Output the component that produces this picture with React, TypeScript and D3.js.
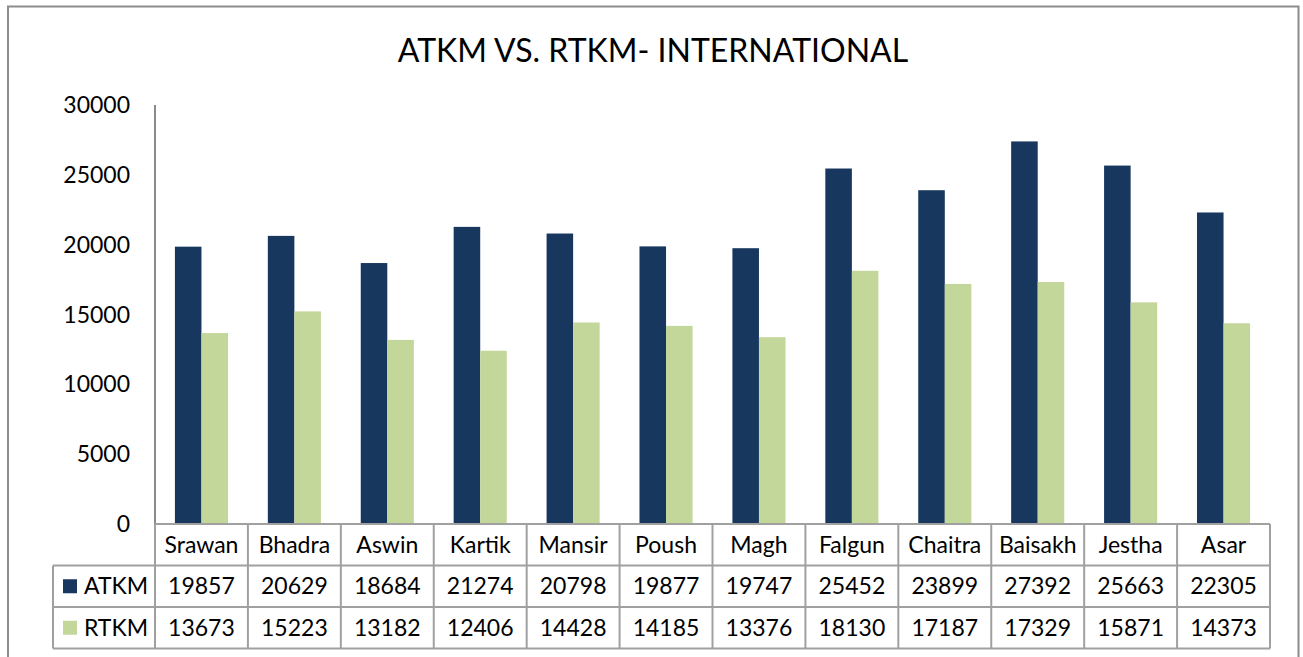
import React, { useEffect, useRef } from 'react'
import * as d3 from 'd3'

// month names (Nepali calendar)
const months = ['Srawan', 'Bhadra', 'Aswin', 'Kartik', 'Mansir', 'Poush', 'Magh', 'Falgun', 'Chaitra', 'Baisakh', 'Jestha', 'Asar']
const atkm = [19857, 20629, 18684, 21274, 20798, 19877, 19747, 25452, 23899, 27392, 25663, 22305]
const rtkm = [13673, 15223, 13182, 12406, 14428, 14185, 13376, 18130, 17187, 17329, 15871, 14373]
const seriesNames = ['ATKM', 'RTKM']
const yTicks = [0, 5000, 10000, 15000, 20000, 25000, 30000]

const W = 1303
const H = 657
const FONT = 'Lato, "Open Sans", sans-serif'

function App() {
  const svgRef = useRef<SVGSVGElement>(null)

  useEffect(() => {
    document.body.style.margin = '0'
    const svg = d3.select(svgRef.current)
    svg.selectAll('*').remove()

    const left = 155, right = 1270, top = 105, bottom = 524
    const rowH = 41.5
    const legendLeft = 53
    const colors = ['#17375e', '#c4d79b']
    const series = [atkm, rtkm]

    // outer chart frame
    svg.append('rect')
      .attr('x', 8).attr('y', 6.5)
      .attr('width', 1290.5).attr('height', 700)
      .attr('fill', 'white')
      .attr('stroke', '#8c8c8c').attr('stroke-width', 2)

    svg.append('text')
      .attr('x', 653).attr('y', 62)
      .attr('text-anchor', 'middle')
      .attr('font-family', FONT)
      .attr('font-size', 32)
      .attr('fill', '#000')
      .text('ATKM VS. RTKM- INTERNATIONAL')

    const x = d3.scaleBand().domain(months).range([left, right]).paddingInner(0).paddingOuter(0)
    const inner = d3.scaleBand().domain(seriesNames)
      .range([0, x.bandwidth()]).paddingInner(0).paddingOuter(0.75)
    const y = d3.scaleLinear().domain([0, 30000]).range([bottom, top])

    // bars
    series.forEach((vals, si) => {
      svg.append('g')
        .selectAll('rect')
        .data(vals)
        .enter().append('rect')
        .attr('x', (d, i) => x(months[i])! + inner(seriesNames[si])!)
        .attr('y', d => y(d))
        .attr('width', inner.bandwidth())
        .attr('height', d => bottom - y(d))
        .attr('fill', colors[si])
    })

    // y axis labels
    const yAxis = svg.append('g')
    yAxis.selectAll('text')
      .data(yTicks)
      .enter().append('text')
      .attr('x', 130)
      .attr('y', d => y(d))
      .attr('dy', '0.35em')
      .attr('text-anchor', 'end')
      .attr('font-family', FONT)
      .attr('font-size', 23)
      .text(d => d)

    yAxis.append('line')
      .attr('x1', left).attr('x2', left)
      .attr('y1', top).attr('y2', bottom)
      .attr('stroke', '#8a8a8a').attr('stroke-width', 2)

    // data table
    const table = svg.append('g')
    const lineColor = '#a0a0a0'
    const r0 = bottom, r1 = bottom + rowH, r2 = bottom + 2 * rowH, r3 = bottom + 3 * rowH
    const hline = (x1: number, x2: number, yy: number) =>
      table.append('line').attr('x1', x1).attr('x2', x2).attr('y1', yy).attr('y2', yy)
        .attr('stroke', lineColor).attr('stroke-width', 2)
    const vline = (xx: number, y1: number, y2: number) =>
      table.append('line').attr('x1', xx).attr('x2', xx).attr('y1', y1).attr('y2', y2)
        .attr('stroke', lineColor).attr('stroke-width', 2)

    hline(left, right, r0)
    hline(legendLeft, right, r1)
    hline(legendLeft, right, r2)
    hline(legendLeft, right, r3)
    vline(legendLeft, r1, r3)
    months.forEach(m => vline(x(m)!, r0, r3))
    vline(right, r0, r3)

    table.selectAll('text.cat')
      .data(months)
      .enter().append('text')
      .attr('x', d => x(d)! + x.bandwidth() / 2)
      .attr('y', (r0 + r1) / 2)
      .attr('dy', '0.35em')
      .attr('text-anchor', 'middle')
      .attr('font-family', FONT)
      .attr('font-size', 23)
      .text(d => d)

    series.forEach((vals, si) => {
      const cy = bottom + rowH * (si + 1.5)
      table.append('rect')
        .attr('x', 63).attr('y', cy - 7)
        .attr('width', 14).attr('height', 14)
        .attr('fill', colors[si])
      table.append('text')
        .attr('x', 84).attr('y', cy)
        .attr('dy', '0.35em')
        .attr('font-family', FONT)
        .attr('font-size', 23)
        .text(seriesNames[si])
      table.append('g').selectAll('text')
        .data(vals)
        .enter().append('text')
        .attr('x', (d, i) => x(months[i])! + x.bandwidth() / 2)
        .attr('y', cy)
        .attr('dy', '0.35em')
        .attr('text-anchor', 'middle')
        .attr('font-family', FONT)
        .attr('font-size', 23)
        .text(d => d)
    })
  }, [])

  return (
    <svg ref={svgRef} width={W} height={H}
      style={{ display: 'block', position: 'absolute', left: 0, top: 0, background: 'white' }}>
    </svg>
  )
}

export default App
